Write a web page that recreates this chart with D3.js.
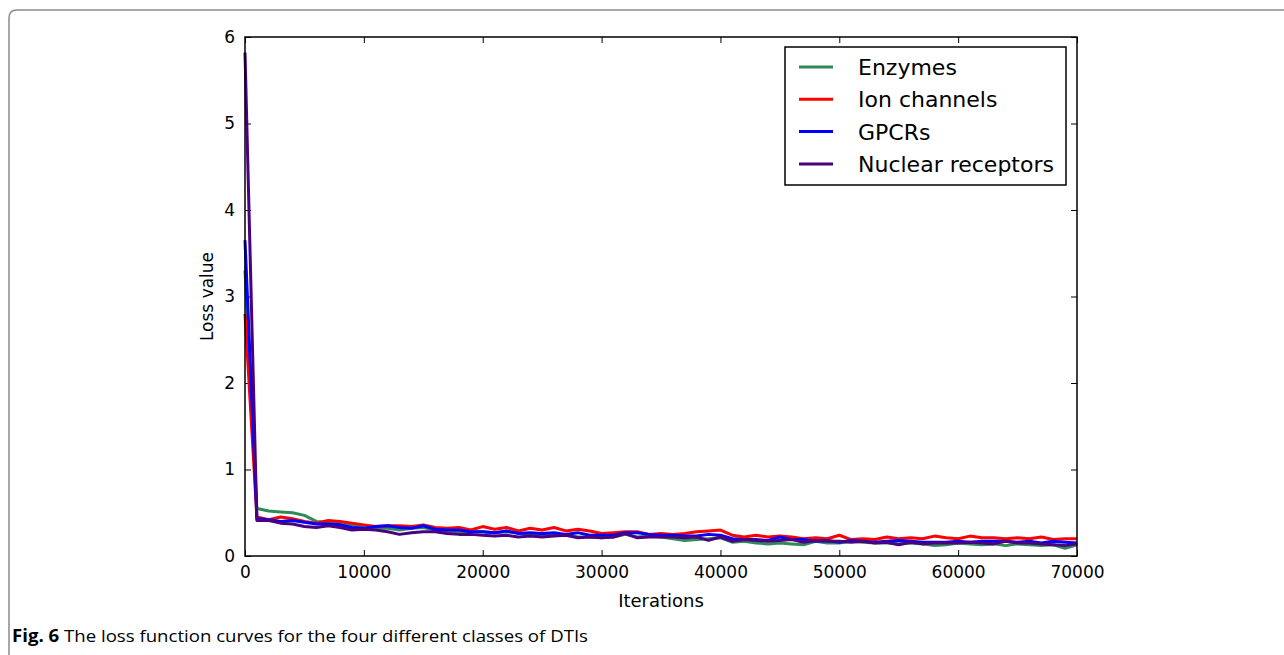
<!DOCTYPE html>
<html lang="en">
<head>
<meta charset="UTF-8">
<title>Loss function curves</title>
<script src="https://d3js.org/d3.v7.min.js"></script>
<style>
    body { margin: 0; background: white; }
    svg { display: block; }
    .tick text { font-family: 'DejaVu Sans', sans-serif; font-size: 17px; fill: black; }
</style>
</head>
<body>
<svg width="1284" height="655"></svg>
<script>
// iterations sampled every 1000
const iterations = d3.range(0, 70001, 1000);

const enzymes = [3.3, 0.55, 0.52, 0.51, 0.50, 0.47, 0.40, 0.39, 0.38, 0.36,
    0.33, 0.32, 0.32, 0.30, 0.32, 0.33, 0.30, 0.29, 0.28, 0.28,
    0.28, 0.27, 0.28, 0.27, 0.24, 0.24, 0.25, 0.25, 0.22, 0.22,
    0.21, 0.22, 0.25, 0.22, 0.23, 0.22, 0.20, 0.18, 0.19, 0.20,
    0.21, 0.16, 0.17, 0.15, 0.14, 0.15, 0.14, 0.13, 0.17, 0.15,
    0.15, 0.17, 0.16, 0.15, 0.15, 0.14, 0.15, 0.14, 0.12, 0.13,
    0.15, 0.14, 0.13, 0.14, 0.12, 0.14, 0.13, 0.12, 0.13, 0.09, 0.13];

const ionChannels = [2.8, 0.45, 0.42, 0.45, 0.43, 0.40, 0.38, 0.41, 0.40, 0.38,
    0.36, 0.34, 0.35, 0.35, 0.34, 0.36, 0.33, 0.32, 0.33, 0.30,
    0.34, 0.31, 0.33, 0.29, 0.32, 0.30, 0.33, 0.29, 0.31, 0.29,
    0.26, 0.27, 0.28, 0.28, 0.25, 0.26, 0.25, 0.26, 0.28, 0.29,
    0.30, 0.24, 0.22, 0.24, 0.22, 0.23, 0.22, 0.20, 0.21, 0.20,
    0.24, 0.19, 0.20, 0.19, 0.22, 0.20, 0.21, 0.20, 0.23, 0.21,
    0.20, 0.23, 0.21, 0.21, 0.20, 0.21, 0.20, 0.22, 0.19, 0.20, 0.20];

const gpcrs = [3.65, 0.43, 0.42, 0.40, 0.41, 0.39, 0.37, 0.37, 0.36, 0.33,
    0.32, 0.34, 0.35, 0.33, 0.32, 0.35, 0.31, 0.30, 0.30, 0.28,
    0.28, 0.27, 0.29, 0.26, 0.27, 0.26, 0.27, 0.25, 0.27, 0.24,
    0.24, 0.24, 0.27, 0.27, 0.25, 0.24, 0.24, 0.23, 0.23, 0.25,
    0.24, 0.20, 0.19, 0.19, 0.18, 0.22, 0.19, 0.19, 0.17, 0.18,
    0.16, 0.18, 0.17, 0.16, 0.17, 0.18, 0.17, 0.16, 0.16, 0.16,
    0.17, 0.16, 0.17, 0.17, 0.17, 0.16, 0.17, 0.15, 0.17, 0.16, 0.15];

const nuclearReceptors = [5.82, 0.41, 0.41, 0.38, 0.37, 0.34, 0.33, 0.35, 0.33, 0.30,
    0.31, 0.30, 0.28, 0.25, 0.27, 0.28, 0.28, 0.26, 0.25, 0.25,
    0.24, 0.23, 0.24, 0.22, 0.23, 0.22, 0.23, 0.24, 0.21, 0.22,
    0.21, 0.22, 0.26, 0.21, 0.22, 0.22, 0.22, 0.21, 0.22, 0.18,
    0.22, 0.17, 0.19, 0.18, 0.17, 0.18, 0.19, 0.16, 0.18, 0.17,
    0.17, 0.16, 0.17, 0.15, 0.16, 0.13, 0.16, 0.14, 0.15, 0.15,
    0.15, 0.16, 0.15, 0.14, 0.17, 0.15, 0.15, 0.14, 0.13, 0.12, 0.14];

const series = [
    {label: "Enzymes", values: enzymes, color: "#2e8b57"},
    {label: "Ion channels", values: ionChannels, color: "#ff0000"},
    {label: "GPCRs", values: gpcrs, color: "#0000ff"},
    {label: "Nuclear receptors", values: nuclearReceptors, color: "#4b0082"}
];

const xTicks = [0, 10000, 20000, 30000, 40000, 50000, 60000, 70000];
const yTicks = [0, 1, 2, 3, 4, 5, 6];

const svg = d3.select("svg");
const margin = {left: 245, top: 37, right: 1077, bottom: 556};

// outer figure frame (only top-left corner visible)
svg.append("path")
    .attr("d", "M9,655 L9,18 Q9,10 17,10 L1284,10")
    .attr("fill", "none")
    .attr("stroke", "#8a8a8a")
    .attr("stroke-width", 1.5);

const x = d3.scaleLinear().domain([0, 70000]).range([margin.left, margin.right]);
const y = d3.scaleLinear().domain([0, 6]).range([margin.bottom, margin.top]);

const g = svg.append("g");

// inward ticks on all four sides
const tickLen = 6;
g.append("g")
    .attr("transform", `translate(0,${margin.bottom})`)
    .call(d3.axisBottom(x).tickValues(xTicks).tickSizeInner(-tickLen).tickSizeOuter(0).tickPadding(10).tickFormat(d3.format("d")))
    .call(a => a.select(".domain").remove());
g.append("g")
    .attr("transform", `translate(0,${margin.top})`)
    .call(d3.axisTop(x).tickValues(xTicks).tickSizeInner(-tickLen).tickSizeOuter(0).tickFormat(""))
    .call(a => a.select(".domain").remove());
g.append("g")
    .attr("transform", `translate(${margin.left},0)`)
    .call(d3.axisLeft(y).tickValues(yTicks).tickSizeInner(-tickLen).tickSizeOuter(0).tickPadding(10).tickFormat(d3.format("d")))
    .call(a => a.select(".domain").remove());
g.append("g")
    .attr("transform", `translate(${margin.right},0)`)
    .call(d3.axisRight(y).tickValues(yTicks).tickSizeInner(-tickLen).tickSizeOuter(0).tickFormat(""))
    .call(a => a.select(".domain").remove());
g.selectAll(".tick line").attr("stroke", "black").attr("stroke-width", 1);

const line = d3.line()
    .x((d, i) => x(iterations[i]))
    .y(d => y(d));

series.forEach(s => {
    g.append("path")
        .datum(s.values)
        .attr("fill", "none")
        .attr("stroke", s.color)
        .attr("stroke-width", 3)
        .attr("stroke-linejoin", "round")
        .attr("d", line);
});

// plot frame
g.append("rect")
    .attr("x", margin.left)
    .attr("y", margin.top)
    .attr("width", margin.right - margin.left)
    .attr("height", margin.bottom - margin.top)
    .attr("fill", "none")
    .attr("stroke", "black")
    .attr("stroke-width", 1.5);

// axis titles
svg.append("text")
    .attr("x", (margin.left + margin.right) / 2)
    .attr("y", 607)
    .attr("text-anchor", "middle")
    .style("font-family", "DejaVu Sans, sans-serif")
    .style("font-size", "18px")
    .text("Iterations");

svg.append("text")
    .attr("transform", `translate(213,${(margin.top + margin.bottom) / 2}) rotate(-90)`)
    .attr("text-anchor", "middle")
    .style("font-family", "DejaVu Sans, sans-serif")
    .style("font-size", "17px")
    .text("Loss value");

// legend
const legend = svg.append("g").attr("transform", "translate(785,47)");
legend.append("rect")
    .attr("width", 281)
    .attr("height", 138)
    .attr("fill", "white")
    .attr("stroke", "black")
    .attr("stroke-width", 1.5);
series.forEach((s, i) => {
    const ly = 20 + i * 32.3;
    legend.append("line")
        .attr("x1", 14).attr("x2", 48)
        .attr("y1", ly).attr("y2", ly)
        .attr("stroke", s.color)
        .attr("stroke-width", 3);
    legend.append("text")
        .attr("x", 73)
        .attr("y", ly + 8)
        .style("font-family", "DejaVu Sans, sans-serif")
        .style("font-size", "22px")
        .text(s.label);
});

// caption
const cap = svg.append("text")
    .attr("x", 12)
    .attr("y", 642)
    .style("font-family", "'Open Sans', sans-serif")
    .style("font-size", "17px")
    .attr("textLength", 576)
    .attr("lengthAdjust", "spacingAndGlyphs");
cap.append("tspan").style("font-weight", "bold").text("Fig. 6");
cap.append("tspan").text(" The loss function curves for the four different classes of DTIs");
</script>
</body>
</html>
